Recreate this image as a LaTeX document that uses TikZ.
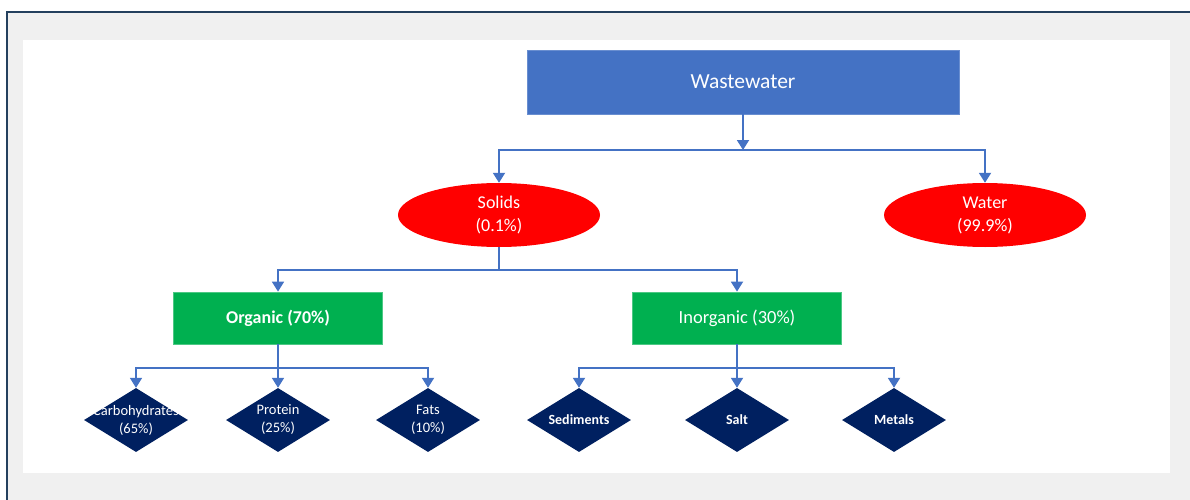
\documentclass[tikz,border=0pt]{standalone}
\usepackage{fontspec}
\setmainfont{Carlito}
\usetikzlibrary{shapes.geometric,arrows.meta}

\definecolor{framec}{HTML}{24405E}
\definecolor{panelbg}{HTML}{F0F0F0}
\definecolor{linkc}{HTML}{4472C4}
\definecolor{topc}{HTML}{4472C4}
\definecolor{redc}{HTML}{FF0000}
\definecolor{greenc}{HTML}{00B050}
\definecolor{navyc}{HTML}{002060}

\tikzset{
  topbox/.style={draw=topc!80!white, line width=0.8pt, fill=topc, text=white,
    minimum width=432, minimum height=64, inner sep=0pt,
    font=\fontsize{21.5}{25}\selectfont},
  oval/.style={ellipse, fill=redc, text=white, minimum width=202, minimum height=64,
    inner sep=0pt, align=center, font=\fontsize{18}{23}\selectfont},
  greenbox/.style={draw=greenc!70!white, line width=0.8pt, fill=greenc, text=white,
    minimum width=209, minimum height=52, inner sep=0pt,
    font=\fontsize{18.5}{22}\selectfont},
  dia/.style={diamond, fill=navyc, minimum width=104, minimum height=64, inner sep=0pt},
  diatext/.style={text=white, align=center, inner sep=0pt,
    font=\fontsize{14.5}{18}\selectfont},
  diabold/.style={diatext, font=\fontsize{14}{18}\selectfont\bfseries},
  link/.style={draw=linkc, line width=1.8pt},
  arrowlink/.style={link, -{Triangle[width=12pt,length=10pt]}},
}

\begin{document}
\begin{tikzpicture}[x=1pt,y=-1pt]
\useasboundingbox (0,0) rectangle (1190,500);
% page, grey card with its frame, white sheet
\fill[white] (0,0) rectangle (1190,500);
\fill[panelbg] (7,12) rectangle (1190,500);
\draw[framec, line width=2.6pt] (7,500) -- (7,12) -- (1190,12);
\fill[white] (23,40) rectangle (1170,473);

% nodes
\node[topbox] (ww) at (743,82) {Wastewater};
\node[oval] (solids) at (499,215) {Solids\\(0.1\%)};
\node[oval] (water) at (985,215) {Water\\(99.9\%)};
\node[greenbox, font=\fontsize{18}{22}\selectfont\bfseries] (org) at (278,318) {Organic (70\%)};
\node[greenbox] (inorg) at (737,318) {Inorganic (30\%)};

\node[dia] (carb) at (136,420) {};
\node[dia] (prot) at (278,420) {};
\node[dia] (fats) at (428,420) {};
\node[dia] (sed) at (579,420) {};
\node[dia] (salt) at (737,420) {};
\node[dia] (met) at (894,420) {};

\node[diatext] (carbT) at (carb) {Carbohydrates\\(65\%)};
\node[diatext] (protT) at (prot) {Protein\\(25\%)};
\node[diatext] (fatsT) at (fats) {Fats\\(10\%)};
\node[diabold] (sedT) at (sed) {Sediments};
\node[diabold] (saltT) at (salt) {Salt};
\node[diabold] (metT) at (met) {Metals};

% branch points
\coordinate (b1) at (743,150);
\coordinate (b2) at (499,270);
\coordinate (b3) at (278,368);
\coordinate (b4) at (737,368);

% connectors
\draw[arrowlink] (ww.south) -- (b1);
\draw[arrowlink] (b1) -| (solids.north);
\draw[arrowlink] (b1) -| (water.north);

\draw[link] (solids.south) -- (b2);
\draw[arrowlink] (b2) -| (org.north);
\draw[arrowlink] (b2) -| (inorg.north);

\draw[arrowlink] (org.south) -- (prot.north);
\draw[arrowlink] (b3) -| (carb.north);
\draw[arrowlink] (b3) -| (fats.north);

\draw[arrowlink] (inorg.south) -- (salt.north);
\draw[arrowlink] (b4) -| (sed.north);
\draw[arrowlink] (b4) -| (met.north);
\end{tikzpicture}
\end{document}
